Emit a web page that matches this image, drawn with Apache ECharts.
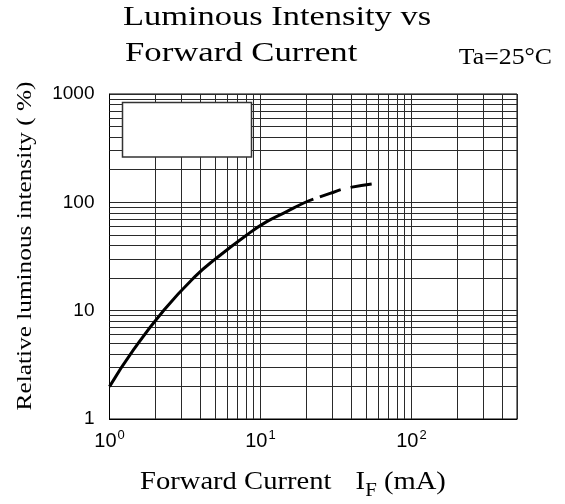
<!DOCTYPE html>
<html>
<head>
<meta charset="utf-8">
<script src="https://cdn.jsdelivr.net/npm/echarts@6/dist/echarts.min.js"></script>
<style>html,body{margin:0;padding:0;background:#fff}#c{width:565px;height:504px}</style>
</head>
<body>
<div id="c"></div>
<script>
// ---- data ----
const titleLines = ['Luminous Intensity vs', 'Forward Current'];
const conditionText = 'Ta=25°C';
const yTitle = 'Relative luminous intensity ( %)';
const xTitleMain = 'Forward Current';
const xTitleSymbol = 'I';
const xTitleSub = 'F';
const xTitleUnit = '(mA)';

const xRange = [1, 500];
const yRange = [1, 1000];

const solidCurrent   = [1, 1.44, 2.29, 3.68, 5.13, 8.11, 11.0, 14.9, 19.2, 22.4];
const solidIntensity = [1.99, 4.34, 10.1, 20.6, 30.7, 50.0, 66.3, 82.1, 98.1, 106.9];
const dashCurrent    = [22.4, 28.9, 36.3, 54.5];
const dashIntensity  = [106.9, 120.8, 134, 148];

const xMinorGrid = [2, 3, 4, 5, 6, 7, 8, 9, 20, 30, 40, 50, 60, 70, 80, 90, 200, 300, 400];
const yMinorGrid = [2, 3, 4, 5, 6, 7, 8, 9, 20, 30, 40, 50, 60, 70, 80, 90, 200, 300, 400, 500, 600, 700, 800, 900];

// ---- chart ----
const serif = "'Liberation Serif', 'Times New Roman', serif";
const sans = "'Liberation Sans', Arial, sans-serif";
const gridColor = '#2a2a2a';

function isPow10(v) {
  const e = Math.log10(v);
  return Math.abs(e - Math.round(e)) < 1e-6;
}

const chart = echarts.init(document.getElementById('c'), null, { renderer: 'canvas' });

const option = {
  animation: false,
  backgroundColor: '#fff',
  grid: {
    left: 109.5, top: 94, right: 48, bottom: 85,
    show: true, borderColor: '#000', borderWidth: 1,
    containLabel: false, outerBoundsMode: 'none'
  },
  xAxis: {
    type: 'log', logBase: 10, min: xRange[0], max: xRange[1],
    axisLine: { show: true, lineStyle: { color: '#000', width: 1 } },
    axisTick: { show: false },
    splitLine: { show: true, lineStyle: { color: gridColor, width: 1 } },
    axisLabel: {
      margin: 10,
      showMaxLabel: false,
      formatter: function (v) {
        if (!isPow10(v)) return '';
        return '{b|10}{s|' + Math.round(Math.log10(v)) + '}';
      },
      rich: {
        b: { fontFamily: sans, fontSize: 20, lineHeight: 25, color: '#000' },
        s: { fontFamily: sans, fontSize: 13, lineHeight: 13, verticalAlign: 'top', color: '#000', padding: [0, 0, 0, 1] }
      }
    }
  },
  yAxis: {
    type: 'log', logBase: 10, min: yRange[0], max: yRange[1],
    axisLine: { show: true, lineStyle: { color: '#000', width: 1 } },
    axisTick: { show: false },
    splitLine: { show: true, lineStyle: { color: gridColor, width: 1 } },
    axisLabel: {
      margin: 15,
      fontFamily: sans, fontSize: 19, color: '#000',
      formatter: function (v) { return isPow10(v) ? String(Math.round(v)) : ''; }
    }
  },
  series: [
    {
      type: 'line', data: [], silent: true, z: 1,
      markLine: {
        silent: true, animation: false,
        symbol: ['none', 'none'],
        label: { show: false },
        lineStyle: { color: gridColor, width: 1, type: 'solid' },
        emphasis: { disabled: true },
        data: xMinorGrid.map(v => ({ xAxis: v })).concat(yMinorGrid.map(v => ({ yAxis: v })))
      }
    },
    {
      type: 'line', z: 5, silent: true,
      data: solidCurrent.map((x, i) => [x, solidIntensity[i]]),
      smooth: 0.5, symbol: 'none', showSymbol: false,
      lineStyle: { color: '#000', width: 3 }
    },
    {
      type: 'line', z: 5, silent: true,
      data: dashCurrent.map((x, i) => [x, dashIntensity[i]]),
      smooth: 0.5, symbol: 'none', showSymbol: false,
      lineStyle: { color: '#000', width: 3, type: [22, 10], dashOffset: 25 }
    }
  ],
  graphic: [
    { type: 'rect', z: 100, shape: { x: 122.5, y: 102.5, width: 129, height: 54.5 },
      style: { fill: '#fff', stroke: '#333', lineWidth: 1.5 } },
    { type: 'text', x: 123, y: 18, scaleX: 1.23, z: 100,
      style: { text: titleLines[0], font: '28px ' + serif, fill: '#000', align: 'left', verticalAlign: 'middle' } },
    { type: 'text', x: 125, y: 54, scaleX: 1.24, z: 100,
      style: { text: titleLines[1], font: '28px ' + serif, fill: '#000', align: 'left', verticalAlign: 'middle' } },
    { type: 'text', x: 552, y: 57.5, scaleX: 1.12, z: 100,
      style: { text: conditionText, font: '23px ' + serif, fill: '#000', align: 'right', verticalAlign: 'middle' } },
    { type: 'text', x: 25, y: 246, rotation: Math.PI / 2, scaleX: 1.15, z: 100,
      style: { text: yTitle, font: '22px ' + serif, fill: '#000', align: 'center', verticalAlign: 'middle' } },
    { type: 'text', x: 140, y: 482, scaleX: 1.1, z: 100,
      style: {
        text: '{m|' + xTitleMain + '}{g| }{m|' + xTitleSymbol + '}{sb|' + xTitleSub + '}{m| ' + xTitleUnit + '}',
        align: 'left', verticalAlign: 'middle',
        rich: {
          m: { fontFamily: serif, fontSize: 26, color: '#000', lineHeight: 30 },
          g: { fontFamily: serif, fontSize: 26, width: 22, lineHeight: 30 },
          sb: { fontFamily: serif, fontSize: 19, color: '#000', verticalAlign: 'bottom', lineHeight: 19, padding: [0, 0, -4, 0] }
        }
      } }
  ]
};
chart.setOption(option);
</script>
</body>
</html>
